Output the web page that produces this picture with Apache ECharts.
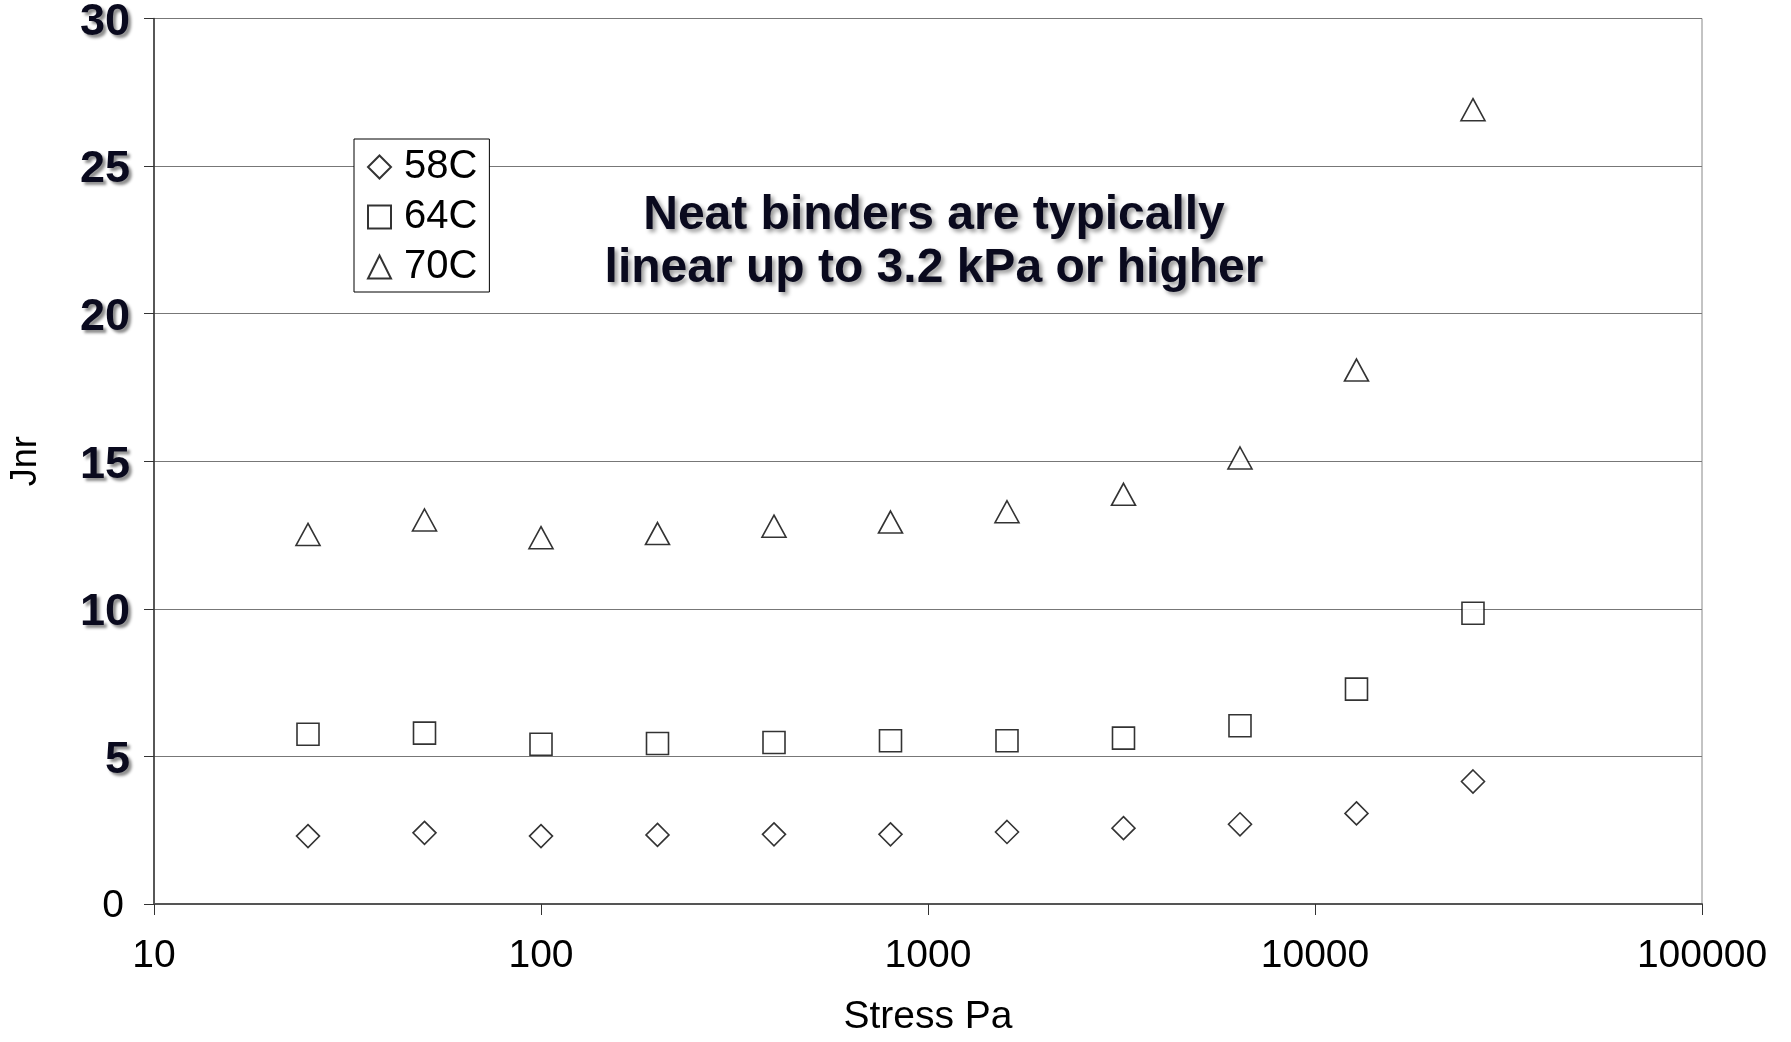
<!DOCTYPE html>
<html>
<head>
<meta charset="utf-8">
<script src="https://cdn.jsdelivr.net/npm/echarts@6/dist/echarts.min.js"></script>
<style>
  html, body { margin: 0; padding: 0; background: #fff; }
  #chart { width: 1791px; height: 1042px; }
</style>
</head>
<body>
<div id="chart"></div>
<script>
// ---- Data ----
const stressPa = [25, 50, 100, 200, 400, 800, 1600, 3200, 6400, 12800, 25600];
const jnr58C = [2.30, 2.41, 2.30, 2.34, 2.36, 2.36, 2.44, 2.57, 2.70, 3.07, 4.15];
const jnr64C = [5.75, 5.79, 5.41, 5.44, 5.47, 5.53, 5.53, 5.62, 6.04, 7.28, 9.85];
const jnr70C = [12.52, 13.01, 12.41, 12.55, 12.80, 12.94, 13.29, 13.88, 15.11, 18.09, 26.91];
const seriesNames = ['58C', '64C', '70C'];
const xTicks = [10, 100, 1000, 10000, 100000];
const yTicks = [0, 5, 10, 15, 20, 25, 30];
const noteLines = ['Neat binders are typically', 'linear up to 3.2 kPa or higher'];

const pair = (xs, ys) => xs.map((x, i) => [x, ys[i]]);
const FONT = "'Liberation Sans', Arial, Helvetica, sans-serif";

const markerStyle = { color: '#ffffff', borderColor: '#000000', borderWidth: 1.6 };

const chart = echarts.init(document.getElementById('chart'), null, { renderer: 'canvas' });
chart.setOption({
  backgroundColor: '#ffffff',
  animation: false,
  textStyle: { fontFamily: FONT },
  grid: {
    left: 153, right: 89, top: 15, bottom: 128,
    show: true, borderColor: '#888888', borderWidth: 1, backgroundColor: 'transparent'
  },
  legend: {
    data: seriesNames,
    orient: 'vertical',
    left: 354, top: 139,
    backgroundColor: '#ffffff',
    borderColor: '#000000', borderWidth: 1,
    padding: [6, 12, 3, 13],
    itemGap: 6,
    itemWidth: 23, itemHeight: 23,
    textStyle: { fontSize: 40, color: '#000', lineHeight: 44, fontFamily: FONT, padding: [0, 0, 0, 8] },
    selectedMode: false
  },
  xAxis: {
    type: 'log', logBase: 10, min: xTicks[0], max: xTicks[xTicks.length - 1],
    name: 'Stress Pa', nameLocation: 'middle', nameGap: 94,
    nameTextStyle: { fontSize: 39, color: '#000', fontFamily: FONT },
    axisLine: { show: true, lineStyle: { color: '#555', width: 2 } },
    axisTick: { show: true, length: 11, lineStyle: { color: '#333', width: 1 } },
    minorTick: { show: false },
    splitLine: { show: false },
    axisLabel: {
      fontSize: 39, color: '#000', margin: 33, fontFamily: FONT,
      formatter: v => String(Math.round(v))
    }
  },
  yAxis: {
    type: 'value', min: yTicks[0], max: yTicks[yTicks.length - 1], interval: 5,
    name: 'Jnr', nameLocation: 'middle', nameGap: 110,
    nameTextStyle: { fontSize: 36, color: '#000', fontFamily: FONT },
    axisLine: { show: true, lineStyle: { color: '#333', width: 1.5 } },
    axisTick: { show: true, length: 10, lineStyle: { color: '#333', width: 1 } },
    splitLine: { show: true, lineStyle: { color: '#777', width: 1.2 } },
    axisLabel: {
      margin: 24,
      formatter: v => v === 0 ? '{z|0}' : '{b|' + v + '}',
      rich: {
        b: {
          fontSize: 45, fontWeight: 'bold', color: '#0a0a1e', fontFamily: FONT,
          textShadowColor: 'rgba(0,0,0,0.45)', textShadowBlur: 3,
          textShadowOffsetX: 3, textShadowOffsetY: 3, padding: [8, 0, 0, 0]
        },
        z: { fontSize: 39, color: '#000', fontFamily: FONT, padding: [4, 6, 0, 0] }
      }
    }
  },
  graphic: [{
    type: 'text',
    x: 934, y: 242,
    z: 10,
    style: {
      text: noteLines.join('\n'),
      font: "bold 48px 'Liberation Sans', Arial, sans-serif",
      fill: '#0a0a1e',
      align: 'center', verticalAlign: 'middle',
      lineHeight: 53,
      textShadowColor: 'rgba(0,0,0,0.4)', textShadowBlur: 4,
      textShadowOffsetX: 3, textShadowOffsetY: 3
    }
  }],
  series: [
    { name: seriesNames[0], type: 'scatter', symbol: 'diamond', symbolSize: 23,
      itemStyle: markerStyle, data: pair(stressPa, jnr58C) },
    { name: seriesNames[1], type: 'scatter', symbol: 'rect', symbolSize: 22,
      itemStyle: markerStyle, data: pair(stressPa, jnr64C) },
    { name: seriesNames[2], type: 'scatter', symbol: 'triangle', symbolSize: [24, 22],
      itemStyle: markerStyle, data: pair(stressPa, jnr70C) }
  ]
});
</script>
</body>
</html>
